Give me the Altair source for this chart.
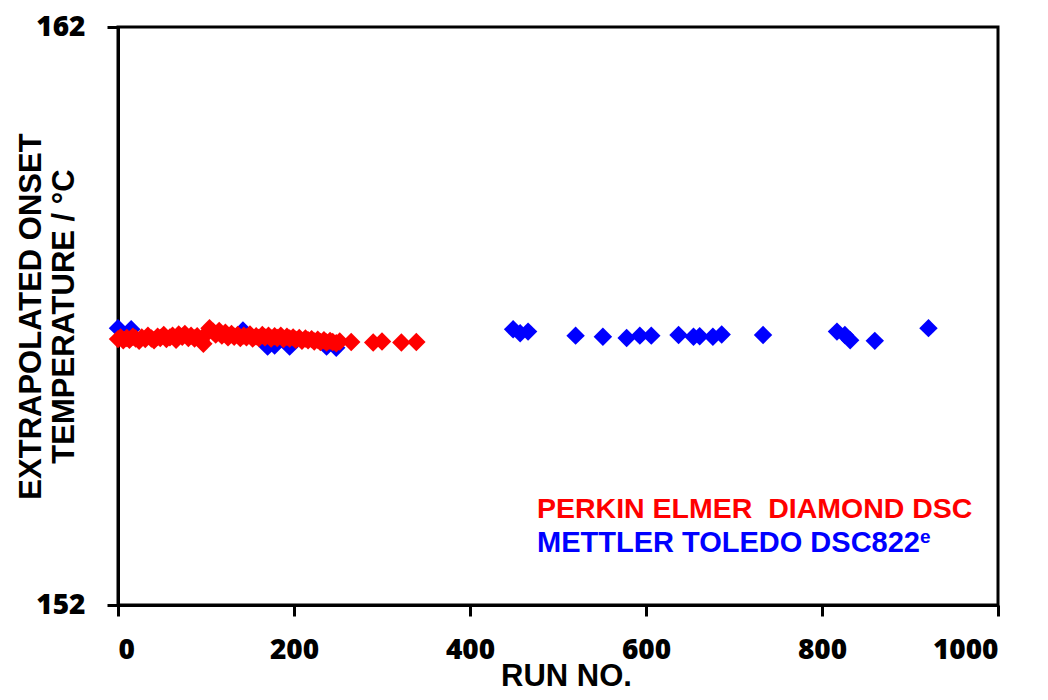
import altair as alt
import pandas as pd

# Perkin Elmer Diamond DSC (red)
red_run = [0, 3, 6, 10, 13, 17, 20, 24, 27, 31, 34, 38, 41, 45, 48, 52, 55, 59, 62, 66,
           69, 73, 76, 80, 83, 87, 90, 94, 97, 101, 104, 108, 111, 115, 118, 122, 125, 129,
           132, 136, 139, 143, 146, 150, 153, 157, 160, 164, 167, 171, 174, 178, 181, 185,
           188, 192, 195, 199, 202, 206, 209, 213, 216, 220, 223, 227, 230, 234, 237, 241,
           244, 248, 252, 265, 290, 300, 322, 339]
red_val = [156.60, 156.63, 156.58, 156.62, 156.59, 156.64, 156.61, 156.57, 156.63, 156.60,
           156.66, 156.61, 156.58, 156.64, 156.62, 156.67, 156.60, 156.63, 156.66, 156.59,
           156.68, 156.64, 156.69, 156.62, 156.66, 156.61, 156.65, 156.58, 156.52, 156.70,
           156.79, 156.73, 156.68, 156.74, 156.66, 156.71, 156.63, 156.69, 156.64, 156.67,
           156.62, 156.66, 156.63, 156.68, 156.61, 156.65, 156.62, 156.67, 156.63, 156.66,
           156.61, 156.65, 156.62, 156.66, 156.60, 156.64, 156.61, 156.63, 156.59, 156.62,
           156.57, 156.61, 156.58, 156.60, 156.56, 156.59, 156.55, 156.58, 156.54, 156.57,
           156.55, 156.53, 156.56, 156.55, 156.54, 156.56, 156.54, 156.55]

# Mettler Toledo DSC822e (blue)
blue_run = [0, 15, 142, 170, 178, 195, 237, 248, 449, 457, 466, 520, 551, 578, 593, 606,
            637, 654, 661, 676, 686, 733, 817, 826, 832, 860, 921]
blue_val = [156.79, 156.77, 156.75, 156.47, 156.49, 156.47, 156.47, 156.45, 156.77, 156.70,
            156.73, 156.66, 156.64, 156.62, 156.66, 156.66, 156.67, 156.64, 156.65, 156.64,
            156.68, 156.67, 156.73, 156.67, 156.58, 156.57, 156.79]

x_ticks = [0, 200, 400, 600, 800, 1000]
y_ticks = [152, 162]

red_df = pd.DataFrame({"run": red_run, "temp": red_val})
blue_df = pd.DataFrame({"run": blue_run, "temp": blue_val})

x_enc = alt.X("run:Q", scale=alt.Scale(domain=[0, 1000], nice=False),
              axis=alt.Axis(values=x_ticks, format="d", title="RUN NO.", titleX=448,
                            titleY=80, titleBaseline="alphabetic", titleAlign="center",
                            labelPadding=20, labelBaseline="top"))
y_enc = alt.Y("temp:Q", scale=alt.Scale(domain=[152, 162], nice=False, zero=False),
              axis=alt.Axis(values=y_ticks, format="d",
                            title=["EXTRAPOLATED ONSET", "TEMPERATURE / °C"],
                            titleX=-87, titleY=289, titleAngle=-90, titleAlign="center",
                            titleBaseline="middle", titleLineHeight=33, labelPadding=22))

blue = alt.Chart(blue_df).mark_point(shape="diamond", filled=True, size=340,
                                     color="#0000FF", opacity=1).encode(x=x_enc, y=y_enc)
red = alt.Chart(red_df).mark_point(shape="diamond", filled=True, size=340,
                                   color="#FF0000", opacity=1).encode(x=x_enc, y=y_enc)

txt_font = "Liberation Sans"
t_red = alt.Chart(pd.DataFrame({"t": ["PERKIN ELMER\u00a0 DIAMOND DSC"]})).mark_text(
    font=txt_font, fontSize=28.5, fontWeight="bold", color="#FF0000", align="left",
    baseline="alphabetic").encode(x=alt.value(419), y=alt.value(491), text="t:N")
t_blue = alt.Chart(pd.DataFrame({"t": ["METTLER TOLEDO DSC822"]})).mark_text(
    font=txt_font, fontSize=29, fontWeight="bold", color="#0000FF", align="left",
    baseline="alphabetic").encode(x=alt.value(419), y=alt.value(525), text="t:N")
t_sup = alt.Chart(pd.DataFrame({"t": ["e"]})).mark_text(
    font=txt_font, fontSize=19, fontWeight="bold", color="#0000FF", align="left",
    baseline="alphabetic").encode(x=alt.value(802), y=alt.value(516), text="t:N")

chart = alt.layer(blue, red, t_red, t_blue, t_sup).properties(
    width=880, height=578,
    autosize=alt.AutoSizeParams(type="none"),
    padding={"left": 110, "top": 19, "right": 40, "bottom": 87},
).configure_view(
    stroke="black", strokeWidth=3
).configure_axis(
    grid=False, domainColor="black", domainWidth=3, tickColor="black", tickWidth=3,
    tickSize=11, labelFont="Open Sans", labelFontSize=28, labelFontWeight=800,
    labelColor="black", titleFont="Liberation Sans", titleFontSize=31,
    titleFontWeight="bold", titleColor="black"
)

chart.save("out.html", embed_options={"renderer": "svg", "actions": False})
